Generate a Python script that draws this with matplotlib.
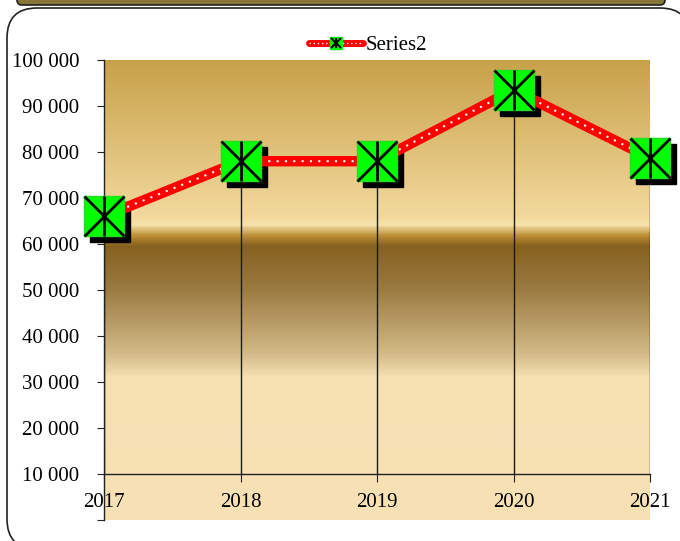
import numpy as np
import matplotlib
matplotlib.use("Agg")
import matplotlib.pyplot as plt
import matplotlib.transforms as mtransforms
from matplotlib.colors import LinearSegmentedColormap
from matplotlib.patches import FancyBboxPatch
from matplotlib.lines import Line2D
from matplotlib.legend_handler import HandlerTuple

# data
years = [2017, 2018, 2019, 2020, 2021]
values = [66000, 78000, 78000, 93500, 78700]
y_ticks = [0, 10000, 20000, 30000, 40000, 50000, 60000, 70000, 80000, 90000, 100000]
y_labels = ["", "10 000", "20 000", "30 000", "40 000", "50 000",
            "60 000", "70 000", "80 000", "90 000", "100 000"]
series_name = "Series2"

plt.rcParams['font.family'] = ['Liberation Serif', 'DejaVu Serif']

W, H = 680, 541
fig = plt.figure(figsize=(W / 100, H / 100), dpi=100)

# outer rounded frame and the strip of the shape above it (pixel coords)
frame = FancyBboxPatch((7, -8), 683, 541, boxstyle="round,pad=0,rounding_size=30",
                       transform=mtransforms.IdentityTransform(),
                       facecolor="white", edgecolor="#222222", lw=1.2, zorder=-10)
fig.add_artist(frame)
strip = FancyBboxPatch((17, 536), 648, 20, boxstyle="round,pad=0,rounding_size=5",
                       transform=mtransforms.IdentityTransform(),
                       facecolor="#867638", edgecolor="#222222", lw=1.2, zorder=-10)
fig.add_artist(strip)

ax = fig.add_axes([104 / W, 21 / H, 546 / W, 460 / H])
ax.set_xlim(years[0], years[-1])
ax.set_ylim(y_ticks[0], y_ticks[-1])
ax.patch.set_visible(False)

# plot area gradient fill
stops = [(0.0, '#f8e2b5'), (0.31, '#f6e0b2'), (0.36, '#d3ba88'), (0.50, '#9c7c42'),
         (0.596, '#86601e'), (0.617, '#b8892e'), (0.643, '#f8e3ad'),
         (0.66, '#f3d99e'), (1.0, '#c8a24a')]
cmap = LinearSegmentedColormap.from_list("plotfill", stops)
grad = np.linspace(0, 1, 600).reshape(-1, 1)
ax.imshow(grad, cmap=cmap, origin='lower', extent=(0, 1, 0, 1),
          transform=ax.transAxes, aspect='auto', zorder=0)

# axes
ax.spines['top'].set_visible(False)
ax.spines['right'].set_visible(False)
ax.spines['bottom'].set_position(('data', 10000))
for s in ('left', 'bottom'):
    ax.spines[s].set_color('#222222')
    ax.spines[s].set_linewidth(1)
    ax.spines[s].set_zorder(2)

ax.set_xticks(years, [str(y) for y in years])
ax.set_yticks(y_ticks, y_labels)
ax.tick_params(axis='x', direction='out', length=6, pad=8, labelsize=15, color='#222222')
ax.tick_params(axis='y', direction='out', length=5, pad=13, labelsize=15, color='#222222')

# drop lines
ax.vlines(years, 10000, values, color='#1a1a1a', lw=1, zorder=2)

# marker shadows
ms = 28.8
shadow_tr = mtransforms.offset_copy(ax.transData, fig=fig, x=6, y=-6, units='dots')
ax.plot(years, values, 's', ms=ms, color='black', transform=shadow_tr,
        zorder=3, clip_on=False)

# red line with white dots
ax.plot(years, values, color='#ff0000', lw=7.5, zorder=4, solid_joinstyle='round',
        solid_capstyle='round')
ax.plot(years, values, color='white', lw=1.5, ls=(0, (1, 3)), zorder=5)

# markers
ax.plot(years, values, 's', ms=ms, mfc='#00ff00', mec='#22dd22', mew=1,
        zorder=6, clip_on=False)
ax.plot(years, values, 'x', ms=ms, color='black', mew=2, zorder=7, clip_on=False)
ax.plot(years, values, '|', ms=ms, color='black', mew=2, zorder=7, clip_on=False)

# legend
h_line = Line2D([], [], color='#ff0000', lw=5, solid_capstyle='round')
h_dots = Line2D([], [], color='white', lw=1, ls=(0, (1, 2)))
h_sq = Line2D([], [], marker='s', ls='none', ms=8, mfc='#00ff00', mec='#00ff00')
h_x = Line2D([], [], marker='x', ls='none', ms=7, color='black', mew=1.5)
h_v = Line2D([], [], marker='|', ls='none', ms=7, color='black', mew=1.5)
ax.legend([(h_line, h_dots, h_sq, h_x, h_v)], [series_name],
          handler_map={tuple: HandlerTuple(ndivide=1)}, numpoints=1,
          loc='center', bbox_to_anchor=(368 / W, (H - 45) / H),
          bbox_transform=fig.transFigure, frameon=False, fontsize=15,
          handlelength=2.6, handletextpad=0.1)

plt.savefig("out.png", dpi=100)
